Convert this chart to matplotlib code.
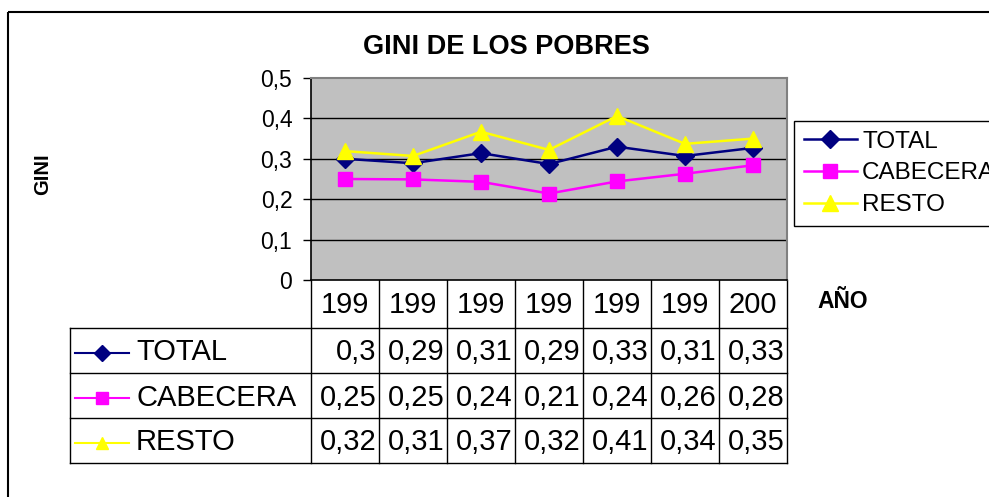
import matplotlib
matplotlib.use("Agg")
import matplotlib.pyplot as plt
from matplotlib.transforms import blended_transform_factory
from matplotlib.lines import Line2D
from matplotlib.patches import Rectangle

plt.rcParams['font.family'] = ['Liberation Sans', 'DejaVu Sans']

# data
years = ["199", "199", "199", "199", "199", "199", "200"]
total = [0.300, 0.289, 0.314, 0.287, 0.330, 0.307, 0.327]
cabecera = [0.250, 0.249, 0.243, 0.214, 0.244, 0.263, 0.284]
resto = [0.319, 0.307, 0.367, 0.322, 0.406, 0.337, 0.350]

series = [
    ("TOTAL", total, "#000080", "D", 9),
    ("CABECERA", cabecera, "#FF00FF", "s", 10),
    ("RESTO", resto, "#FFFF00", "^", 11),
]

W, H = 989, 497
fig = plt.figure(figsize=(W / 100, H / 100), dpi=100)

# overlay in pixel coords for frame and table
bg = fig.add_axes([0, 0, 1, 1])
bg.set_xlim(0, W)
bg.set_ylim(H, 0)
bg.axis("off")
bg.add_patch(Rectangle((8, 12), 1100, 600, fill=False, edgecolor="black", lw=1.5))

# plot area: x 311..787, y 78..280
px0, px1, py0, py1 = 311, 787, 78, 280
ax = fig.add_axes([px0 / W, 1 - py1 / H, (px1 - px0) / W, (py1 - py0) / H])
ax.set_facecolor("#C0C0C0")
ax.set_xlim(-0.5, len(years) - 0.5)
ax.set_ylim(0, 0.5)
ax.set_yticks([0, 0.1, 0.2, 0.3, 0.4, 0.5])
ax.yaxis.set_major_formatter(lambda v, p: "0" if v == 0 else f"{v:.1f}".replace(".", ","))
ax.tick_params(axis="y", length=6, width=1, pad=7.5, labelsize=16.5)
ax.set_xticks([])
for y in [0.1, 0.2, 0.3, 0.4]:
    ax.axhline(y, color="black", lw=1, zorder=1)
for s in ["top", "right"]:
    ax.spines[s].set_color("#808080")
    ax.spines[s].set_linewidth(1.5)
for s in ["left", "bottom"]:
    ax.spines[s].set_color("black")
    ax.spines[s].set_linewidth(1.2)

handles = []
for name, vals, col, mk, ms in series:
    h, = ax.plot(range(len(vals)), vals, color=col, marker=mk, markersize=ms,
                 lw=1.8, label=name, zorder=3, clip_on=False)
    handles.append(h)

ax.legend(handles=handles, loc="upper left",
          bbox_to_anchor=(794 / W, 1 - 121 / H), bbox_transform=fig.transFigure,
          fontsize=17.5, frameon=True, fancybox=False, edgecolor="black",
          framealpha=1, handlelength=2.2, handletextpad=0.2,
          labelspacing=0.4, borderpad=0.4, borderaxespad=0)
ax.get_legend().get_frame().set_linewidth(1)

fig.text(506 / W, 1 - 47 / H, "GINI DE LOS POBRES", ha="center", va="center",
         fontsize=19.5, fontweight="bold")
fig.text(43 / W, 1 - 174 / H, "GINI", ha="center", va="center",
         fontsize=14.5, fontweight="bold", rotation=90)
fig.text(843 / W, 1 - 302 / H, "AÑO", ha="center", va="center",
         fontsize=16.5, fontweight="bold")

# data table
tr = blended_transform_factory(ax.transData, bg.transData)
rows = [280, 328, 373, 418, 463]
n = len(years)
# vertical lines between columns
for i in range(n + 1):
    bg.plot([i - 0.5, i - 0.5], [rows[0], rows[-1]], color="black", lw=1,
            transform=tr, clip_on=False)
bg.plot([70, 70], [rows[1], rows[-1]], color="black", lw=1)
for y in rows[1:]:
    bg.plot([70, px1], [y, y], color="black", lw=1)

for i, yr in enumerate(years):
    bg.text(i, (rows[0] + rows[1]) / 2 + 1, yr, transform=tr, ha="center",
            va="center", fontsize=21)

for r, (name, vals, col, mk, ms) in enumerate(series):
    yc = (rows[r + 1] + rows[r + 2]) / 2 + 2
    bg.add_line(Line2D([75, 129], [yc, yc], color=col, lw=1.5))
    bg.add_line(Line2D([102], [yc], color=col, marker=mk, markersize=ms * 0.85))
    bg.text(136, yc, name, ha="left", va="center", fontsize=21)
    for i, v in enumerate(vals):
        txt = f"{round(v, 2):g}".replace(".", ",")
        bg.text(i + 0.46, yc, txt, transform=tr, ha="right", va="center",
                fontsize=21)

fig.savefig("out.png", dpi=100)
